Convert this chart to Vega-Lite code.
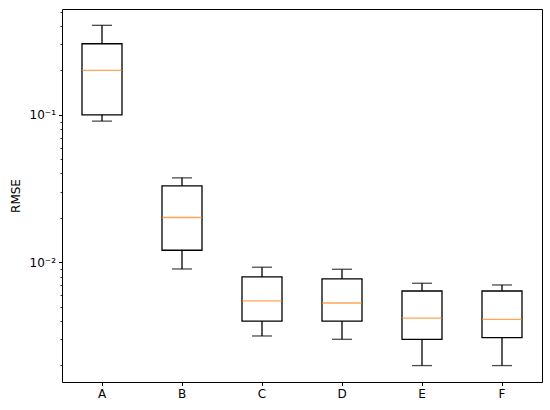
{
  "$schema": "https://vega.github.io/schema/vega-lite/v6.json",
  "width": 480,
  "height": 373,
  "autosize": "none",
  "padding": {"left": 62, "top": 9, "right": 8, "bottom": 28},
  "background": "white",
  "config": {
    "view": {"stroke": "#000000", "strokeWidth": 1},
    "font": "DejaVu Sans"
  },
  "data": {
    "values": [
      {"cat": "A", "lower": 0.0906, "q1": 0.1, "median": 0.2001, "q3": 0.3034, "upper": 0.4045},
      {"cat": "B", "lower": 0.0090, "q1": 0.01206, "median": 0.0201, "q3": 0.03296, "upper": 0.03735},
      {"cat": "C", "lower": 0.00316, "q1": 0.00399, "median": 0.00546, "q3": 0.00795, "upper": 0.00925},
      {"cat": "D", "lower": 0.0030, "q1": 0.00399, "median": 0.00529, "q3": 0.0077, "upper": 0.00896},
      {"cat": "E", "lower": 0.00199, "q1": 0.0030, "median": 0.00417, "q3": 0.00638, "upper": 0.0072},
      {"cat": "F", "lower": 0.00199, "q1": 0.00308, "median": 0.0041, "q3": 0.00638, "upper": 0.00701}
    ]
  },
  "encoding": {
    "x": {
      "field": "cat", "type": "nominal",
      "scale": {"type": "band", "paddingInner": 0, "paddingOuter": 0},
      "axis": {
        "title": null, "labelAngle": 0, "domain": false, "grid": false,
        "tickSize": 3.5, "tickColor": "#000", "tickWidth": 1,
        "labelFontSize": 12, "labelColor": "#000", "labelPadding": 3, "labelFont": "DejaVu Sans"
      }
    }
  },
  "layer": [
    {
      "mark": {"type": "rule", "color": "#000", "strokeWidth": 1.3},
      "encoding": {
        "y": {
          "field": "lower", "type": "quantitative",
          "scale": {"type": "log", "domain": [0.00154, 0.522], "nice": false, "zero": false},
          "axis": {
            "title": "RMSE", "titleFontSize": 12, "titleFontWeight": "normal", "titleColor": "#000", "titlePadding": 7, "titleFont": "DejaVu Sans",
            "domain": false, "grid": false,
            "values": [0.002, 0.003, 0.004, 0.005, 0.006, 0.007, 0.008, 0.009, 0.01, 0.02, 0.03, 0.04, 0.05, 0.06, 0.07, 0.08, 0.09, 0.1, 0.2, 0.3, 0.4, 0.5],
            "labelExpr": "datum.value == 0.1 ? '10⁻¹' : (datum.value == 0.01 ? '10⁻²' : '')",
            "tickSize": {"condition": {"test": "datum.value == 0.1 || datum.value == 0.01", "value": 3.5}, "value": 2},
            "tickWidth": {"condition": {"test": "datum.value == 0.1 || datum.value == 0.01", "value": 1}, "value": 0.8},
            "tickColor": "#000",
            "labelFontSize": 12, "labelColor": "#000", "labelPadding": 3, "labelFont": "DejaVu Sans", "labelBound": false, "labelOverlap": false
          }
        },
        "y2": {"field": "upper"}
      }
    },
    {
      "mark": {"type": "bar", "fill": "white", "stroke": "#000", "strokeWidth": 1.3, "size": 40},
      "encoding": {
        "y": {"field": "q1", "type": "quantitative"},
        "y2": {"field": "q3"}
      }
    },
    {
      "mark": {"type": "tick", "color": "#000", "size": 20, "thickness": 1.3},
      "encoding": {"y": {"field": "lower", "type": "quantitative"}}
    },
    {
      "mark": {"type": "tick", "color": "#000", "size": 20, "thickness": 1.3},
      "encoding": {"y": {"field": "upper", "type": "quantitative"}}
    },
    {
      "mark": {"type": "tick", "color": "#ff7f0e", "size": 40, "thickness": 1.3},
      "encoding": {"y": {"field": "median", "type": "quantitative"}}
    }
  ]
}
